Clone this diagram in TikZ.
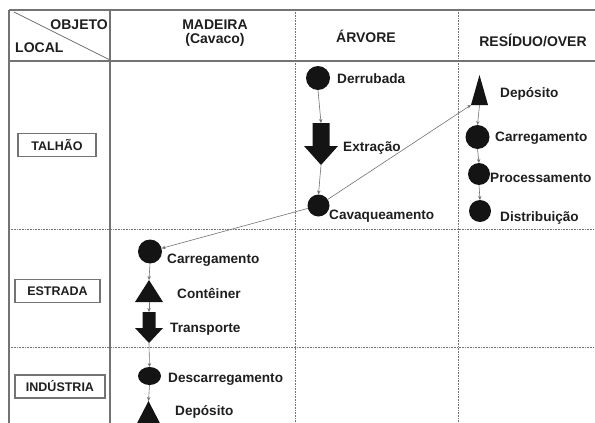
\documentclass[tikz,border=0pt]{standalone}
\usepackage{fontspec}
\setmainfont{Liberation Sans}
\usetikzlibrary{arrows.meta,calc,shapes.geometric}
\definecolor{frame}{gray}{0.45}
\definecolor{ink}{gray}{0.12}
\definecolor{shp}{gray}{0.08}
\begin{document}
\begin{tikzpicture}[x=1pt,y=-1pt,
  lbl/.style={font=\fontsize{13.6}{15}\selectfont\bfseries, text=ink, inner sep=0pt, anchor=base west},
  hdr/.style={font=\fontsize{14}{13.5}\selectfont\bfseries, text=ink, inner sep=0pt, align=center},
  rowbox/.style={draw=frame, line width=1.2pt, font=\fontsize{12.5}{14}\selectfont\bfseries, text=ink, minimum height=23pt, inner sep=0pt},
  dotnode/.style={circle, fill=shp, inner sep=0pt, outer sep=0pt, minimum size=#1},
  bbox/.style={inner sep=0pt, outer sep=0pt, minimum width=#1},
  conn/.style={draw=frame, line width=0.6pt, -{Stealth[length=4pt,width=3.5pt]}},
  solidline/.style={draw=frame, line width=1.2pt},
  dotline/.style={draw=frame, line width=0.8pt, dash pattern=on 0.8pt off 0.8pt},
]
\useasboundingbox[fill=white] (0,0) rectangle (595,423);

% ---- frame ----
\draw[solidline, line width=1.6pt] (9,10) -- (595,10);
\draw[solidline] (9,61) -- (595,61);
\draw[solidline] (9,10) -- (9,423);
\draw[solidline] (110,10) -- (110,423);
\draw[draw=frame, line width=0.8pt] (14,12) -- (110,60);
\draw[dotline] (295,10) -- (295,423);
\draw[dotline] (458,10) -- (458,423);
\draw[dotline] (9,229) -- (595,229);
\draw[dotline] (9,347) -- (595,347);

% ---- header ----
\node[hdr, anchor=base east] (hobj) at (108,29) {OBJETO};
\node[hdr, anchor=base west] (hloc) at (15,52) {LOCAL};
\node[hdr] (hmad) at (215,33) {MADEIRA\\(Cavaco)};
\node[hdr, anchor=base] (harv) at (366,42) {ÁRVORE};
\node[hdr, anchor=base] (hres) at (533,46) {RESÍDUO/OVER};

% ---- row labels ----
\node[rowbox, minimum width=78pt] (rtal) at (57,145) {TALHÃO};
\node[rowbox, minimum width=85pt] (rest) at (57.5,291) {ESTRADA};
\node[rowbox, minimum width=90pt] (rind) at (60,386.5) {INDÚSTRIA};

% ---- ÁRVORE column ----
\node[dotnode=24pt] (derr) at (318,78) {};
\node[bbox=34pt, minimum height=42pt] (extr) at (321,144) {};
\fill[shp] ($(extr.north)+(-8.5,0)$) -- ($(extr.north)+(8.5,0)$) -- ($(extr.north)+(8.5,23)$)
  -- ($(extr.north)+(17,23)$) -- (extr.south) -- ($(extr.north)+(-17,23)$)
  -- ($(extr.north)+(-8.5,23)$) -- cycle;
\node[dotnode=22pt] (cav) at (318.5,205.5) {};
\node[lbl] (tderr) at (337,83) {Derrubada};
\node[lbl] (textr) at (343,151) {Extração};
\node[lbl] (tcav) at (329,219) {Cavaqueamento};

% ---- RESÍDUO column ----
\node[bbox=17pt, minimum height=30pt] (depR) at (479.5,90) {};
\fill[shp] (depR.north) -- (depR.south east) -- (depR.south west) -- cycle;
\node[dotnode=24pt] (carR) at (477.5,137) {};
\node[dotnode=22pt] (proR) at (479,174) {};
\node[dotnode=22pt] (disR) at (480,211) {};
\node[lbl] (tdepR) at (500,97) {Depósito};
\node[lbl] (tcarR) at (495,141) {Carregamento};
\node[lbl] (tproR) at (490,182) {Processamento};
\node[lbl] (tdisR) at (500,221) {Distribuição};

% ---- MADEIRA column ----
\node[dotnode=24pt] (carM) at (150,251.5) {};
\node[bbox=28pt, minimum height=22pt] (cont) at (149,291) {};
\fill[shp] (cont.north) -- (cont.south east) -- (cont.south west) -- cycle;
\node[bbox=28pt, minimum height=31pt] (trans) at (149,327.5) {};
\fill[shp] ($(trans.north)+(-6.5,0)$) -- ($(trans.north)+(6.5,0)$) -- ($(trans.north)+(6.5,16)$)
  -- ($(trans.north)+(14,16)$) -- (trans.south) -- ($(trans.north)+(-14,16)$)
  -- ($(trans.north)+(-6.5,16)$) -- cycle;
\node[ellipse, fill=shp, inner sep=0pt, outer sep=0pt, minimum width=23pt, minimum height=18pt] (desc) at (149.5,376) {};
\node[bbox=30pt, minimum height=29pt] (depM) at (148.5,415.5) {};
\fill[shp] (depM.north) -- (depM.south east) -- (depM.south west) -- cycle;
\node[lbl] (tcarM) at (167,263) {Carregamento};
\node[lbl] (tcont) at (177,298) {Contêiner};
\node[lbl] (ttrans) at (170,332) {Transporte};
\node[lbl] (tdesc) at (168,382) {Descarregamento};
\node[lbl] (tdepM) at (175,415) {Depósito};

% ---- connectors ----
\draw[conn] (derr.south) -- (extr.north);
\draw[conn] (extr.south) -- (cav.north);
\draw[conn] (cav) -- (carM);
\draw[conn] (cav) -- (depR.south west);
\draw[conn] (depR.south) -- (carR.north);
\draw[conn] (carR.south) -- (proR.north);
\draw[conn] (proR.south) -- (disR.north);
\draw[conn] (carM.south) -- (cont.north);
\draw[conn] (cont.south) -- (trans.north);
\draw[conn] (trans.south) -- (desc.north);
\draw[conn] (desc.south) -- (depM.north);
\end{tikzpicture}
\end{document}
